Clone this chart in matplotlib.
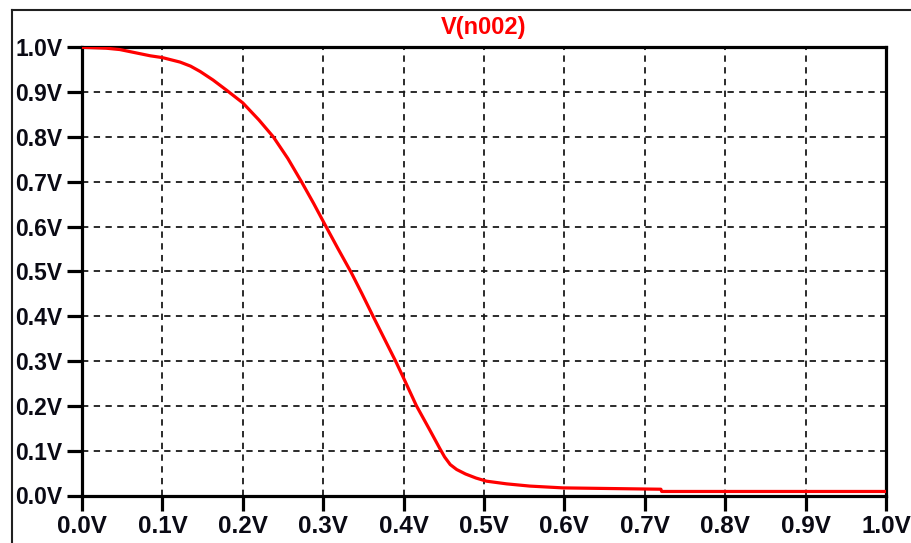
import matplotlib
matplotlib.use("Agg")
import matplotlib.pyplot as plt
from matplotlib.lines import Line2D
from matplotlib.ticker import FixedLocator, FuncFormatter

# Inverter transfer characteristic: input sweep (V) vs. output node voltage (V)
v_in = [0.0, 0.03, 0.047, 0.066, 0.085, 0.1, 0.122, 0.135, 0.147, 0.163,
        0.18, 0.2, 0.22, 0.238, 0.256, 0.273, 0.288, 0.302, 0.318, 0.335,
        0.348, 0.362, 0.376, 0.39, 0.4, 0.416, 0.432, 0.445, 0.451, 0.458,
        0.466, 0.477, 0.49, 0.503, 0.528, 0.557, 0.598, 0.72, 0.721, 1.0]
v_n002 = [1.0, 0.998, 0.995, 0.988, 0.981, 0.977, 0.967, 0.958, 0.946, 0.927,
          0.904, 0.876, 0.838, 0.8, 0.752, 0.7, 0.652, 0.605, 0.552, 0.497,
          0.451, 0.4, 0.35, 0.3, 0.262, 0.2, 0.148, 0.105, 0.086, 0.069,
          0.058, 0.048, 0.039, 0.032, 0.026, 0.021, 0.017, 0.014, 0.009, 0.009]

x_ticks = [0.0, 0.1, 0.2, 0.3, 0.4, 0.5, 0.6, 0.7, 0.8, 0.9, 1.0]
y_ticks = [0.0, 0.1, 0.2, 0.3, 0.4, 0.5, 0.6, 0.7, 0.8, 0.9, 1.0]
trace_name = "V(n002)"

plt.rcParams['font.family'] = ['Liberation Sans', 'DejaVu Sans']

W, H = 912, 543
fig = plt.figure(figsize=(W / 100, H / 100), dpi=100)
fig.patch.set_facecolor('white')

ax = fig.add_axes([82 / W, 1 - 495.5 / H, (886 - 82) / W, (495.5 - 47.3) / H])
ax.plot(v_in, v_n002, color='#ff0000', lw=2.3, solid_joinstyle='round', zorder=3)

ax.set_xlim(0, 1)
ax.set_ylim(0, 1)
ax.xaxis.set_major_locator(FixedLocator(x_ticks))
ax.yaxis.set_major_locator(FixedLocator(y_ticks))
fmt = FuncFormatter(lambda v, _: f"{v:.1f}V")
ax.xaxis.set_major_formatter(fmt)
ax.yaxis.set_major_formatter(fmt)

ax.grid(True, color='#1a1a1a', lw=1.3, linestyle=(0, (3.5, 3)))
ax.set_axisbelow(True)

for s in ax.spines.values():
    s.set_linewidth(2.3)
    s.set_color('black')

ax.tick_params(axis='both', direction='out', length=11, width=2.3, color='black')
ax.tick_params(axis='y', pad=3, labelsize=16.5)
ax.tick_params(axis='x', pad=3, labelsize=17.5)
for lab in ax.get_xticklabels() + ax.get_yticklabels():
    lab.set_fontweight('bold')
    lab.set_color('#0a0a14')

ax.set_title(trace_name, color='#ff0000', fontsize=17, fontweight='bold', pad=9.5)

# Window frame lines
fig.add_artist(Line2D([12 / W, 1.0], [1 - 10 / H, 1 - 10 / H],
                      transform=fig.transFigure, color='#202020', lw=1.5))
fig.add_artist(Line2D([12 / W, 12 / W], [0.0, 1 - 10 / H],
                      transform=fig.transFigure, color='#202020', lw=1.5))

fig.savefig('out.png', dpi=100, facecolor='white')
